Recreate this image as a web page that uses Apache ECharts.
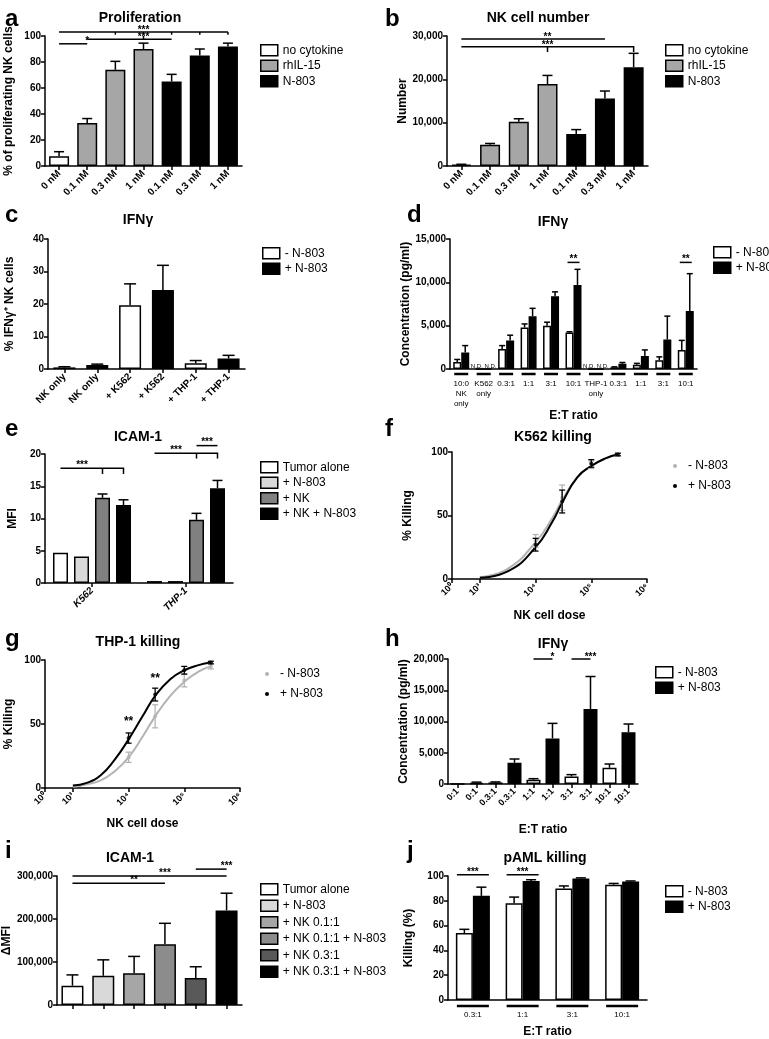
<!DOCTYPE html>
<html><head><meta charset="utf-8">
<script src="https://cdn.jsdelivr.net/npm/echarts@6/dist/echarts.min.js"></script>
<style>html,body{margin:0;padding:0;background:#fff}#c{width:769px;height:1039px}</style>
</head><body><div id="c"></div>
<script>
// ---------- DATA ----------
const aCats = ['0 nM','0.1 nM','0.3 nM','1 nM','0.1 nM','0.3 nM','1 nM'];
const aNo = [7.5,'-','-','-','-','-','-'];
const aIL = ['-',33,74,90,'-','-','-'];
const aN8 = ['-','-','-','-',65,85,92];
const aErr = [3.5,3.5,6.5,4.5,5.5,5,2.5];
const bNo = [300,'-','-','-','-','-','-'];
const bIL = ['-',4900,10200,18900,'-','-','-'];
const bN8 = ['-','-','-','-',7400,15600,22800];
const bErr = [100,300,700,2000,1000,1700,3200];
const cCats = ['NK only','NK only','+ K562','+ K562','+ THP-1','+ THP-1'];
const cMinus = [0.5,'-',19.6,'-',1.8,'-'];
const cPlus = ['-',1.2,'-',24.3,'-',3.2];
const cErr = [0.2,0.3,6.6,7.6,0.8,1.0];
const dCats = ['10:0\nNK\nonly','K562\nonly','0.3:1','1:1','3:1','10:1','THP-1\nonly','0.3:1','1:1','3:1','10:1'];
const dMinus = [800,0,2300,4800,5000,4200,0,200,500,1000,2200];
const dPlus = [1900,0,3300,6100,8400,9700,0,600,1500,3400,6700];
const dMinusErr = [300,0,400,400,400,100,0,50,150,400,1100];
const dPlusErr = [800,0,600,900,500,1800,0,150,700,2700,4300];
const eCats = ['K562','THP-1'];
const eTumor = [4.7,0.3];
const eN8 = [4.1,0.3];
const eNK = [13.2,9.8];
const eNKN8 = [12.1,14.7];
const eNKErr = [0.6,1.0];
const eNKN8Err = [0.8,1.2];
const fDose = [1e4,3e4,1e5,3e5];
const fMinus = [30,64,90,98];
const fMinusErr = [5,10,3,1];
const fPlus = [27,61,91,98];
const fPlusErr = [5,9,3,1];
const fCurveDose = [1e3,3.16e3,1e4,2e4,3e4,5.6e4,1e5,1.8e5,3e5];
const fCurveMinus = [1.5,8,29,48,62,80,89,95,98];
const fCurvePlus = [1,6,25,45,60,80,89,95,98];
const gDose = [1e4,3e4,1e5,3e5];
const gMinus = [24,56,84,95];
const gMinusErr = [4,9,5,2];
const gPlus = [39,73,92,98];
const gPlusErr = [4,5,3,1];
const gCurveDose = [1e3,1.78e3,3.16e3,5.6e3,1e4,1.78e4,3e4,5.6e4,1e5,1.8e5,3e5];
const gCurveMinus = [1,3,6,13,24,40,56,72,83,91,95];
const gCurvePlus = [2,4,10,22,38,56,72,85,92,96,98];
const hCats = ['0:1','0:1','0.3:1','0.3:1','1:1','1:1','3:1','3:1','10:1','10:1'];
const hMinus = [0,'-',250,'-',700,'-',1200,'-',2600,'-'];
const hPlus = ['-',200,'-',3400,'-',7300,'-',12000,'-',8300];
const hErr = [0,100,80,600,150,2400,300,5200,600,1300];
const iNames = ['Tumor alone','+ N-803','+ NK 0.1:1','+ NK 0.1:1 + N-803','+ NK 0.3:1','+ NK 0.3:1 + N-803'];
const iVals = [45000,68000,74000,141000,63000,220000];
const iErr = [25000,37000,39000,49000,26000,40000];
const jCats = ['0.3:1','1:1','3:1','10:1'];
const jMinus = [54,78,90,93];
const jPlus = [84,96,98,95.5];
const jMinusErr = [3,5,2,1];
const jPlusErr = [7,1,0.5,0.5];
const iColors = ['#ffffff','#d9d9d9','#a6a6a6','#8c8c8c','#595959','#000000'];

// ---------- HELPERS ----------
const FONT = 'Liberation Sans';
const grids = [
  {left:45,top:36,width:197,height:130},
  {left:447,top:36,width:201,height:130},
  {left:48,top:239,width:197,height:130},
  {left:450,top:239,width:247,height:130},
  {left:45,top:454,width:188,height:129},
  {left:452,top:452,width:195,height:127},
  {left:45,top:660,width:195,height:128},
  {left:448,top:659,width:190,height:125},
  {left:40,top:876,width:202,height:129},
  {left:448,top:876,width:199,height:130}
];
const axLine = {show:true,lineStyle:{color:'#000',width:1.5}};
const axTick = {show:true,length:4,lineStyle:{color:'#000',width:1.5}};
function yAx(gi,max,interval,name,gap){
  return {type:'value',gridIndex:gi,min:0,max:max,interval:interval,name:name,nameLocation:'middle',nameGap:gap,
    nameTextStyle:{fontFamily:FONT,fontWeight:'bold',fontSize:12,color:'#000'},
    axisLine:axLine,axisTick:axTick,splitLine:{show:false},
    axisLabel:{fontFamily:FONT,fontWeight:'bold',fontSize:10,color:'#000',margin:4}};
}
function xCat(gi,data,opts){
  opts = opts||{};
  return {type:'category',gridIndex:gi,data:data,name:opts.name||'',nameLocation:'middle',nameGap:opts.nameGap||30,
    nameTextStyle:{fontFamily:FONT,fontWeight:'bold',fontSize:12,color:'#000'},
    axisLine:axLine,axisTick:opts.tick===false?{show:false}:Object.assign({alignWithLabel:true},axTick),
    axisLabel:Object.assign({fontFamily:FONT,fontWeight:'bold',fontSize:10,color:'#000',rotate:45,interval:0,margin:6},opts.label||{})};
}
function xLog(gi,name,gap){
  return {type:'log',logBase:10,gridIndex:gi,min:316.2278,max:1e6,name:name,nameLocation:'middle',nameGap:gap,
    nameTextStyle:{fontFamily:FONT,fontWeight:'bold',fontSize:12,color:'#000'},
    axisLine:axLine,axisTick:axTick,splitLine:{show:false},minorTick:{show:false},
    axisLabel:{fontFamily:FONT,fontWeight:'bold',fontSize:9,color:'#000',showMinLabel:true,rotate:45,margin:6,
      formatter:v=>{const e=Math.round(Math.log10(v)); if(v<900) return '10⁰'; const sup={3:'³',4:'⁴',5:'⁵',6:'⁶'}; return '10'+(sup[e]||e);}}};
}
function bar(gi,name,data,color,extra){
  return Object.assign({type:'bar',name:name,xAxisIndex:gi,yAxisIndex:gi,data:data,
    itemStyle:{color:color,borderColor:'#000',borderWidth:1.5},emphasis:{disabled:true},z:3},extra||{});
}
// error bars: items [x, value, err, dxPx]
function errSeries(gi,items,cap,color){
  color = color||'#000';
  return {type:'custom',xAxisIndex:gi,yAxisIndex:gi,z:2,clip:false,
    data:items.map(it=>[it[0],it[1],it[2],it[3]||0]),
    renderItem:(p,api)=>{
      const x=api.value(0),v=api.value(1),e=api.value(2),dx=api.value(3);
      if(!e) return null;
      const a=api.coord([x,v]),b=api.coord([x,v+e]);
      const cx=a[0]+dx;
      return {type:'group',children:[
        {type:'line',shape:{x1:cx,y1:a[1],x2:cx,y2:b[1]},style:{stroke:color,lineWidth:1.5}},
        {type:'line',shape:{x1:cx-cap,y1:b[1],x2:cx+cap,y2:b[1]},style:{stroke:color,lineWidth:1.5}}]};
    }};
}
// symmetric error bars for scatter on log axes
function errSym(gi,xs,vs,es,color){
  return {type:'custom',xAxisIndex:gi,yAxisIndex:gi,z:4,clip:false,
    data:xs.map((x,i)=>[x,vs[i],es[i]]),
    renderItem:(p,api)=>{
      const x=api.value(0),v=api.value(1),e=api.value(2);
      const lo=api.coord([x,v-e]),hi=api.coord([x,v+e]);
      return {type:'group',children:[
        {type:'line',shape:{x1:lo[0],y1:lo[1],x2:hi[0],y2:hi[1]},style:{stroke:color,lineWidth:1.3}},
        {type:'line',shape:{x1:lo[0]-3,y1:lo[1],x2:lo[0]+3,y2:lo[1]},style:{stroke:color,lineWidth:1.3}},
        {type:'line',shape:{x1:hi[0]-3,y1:hi[1],x2:hi[0]+3,y2:hi[1]},style:{stroke:color,lineWidth:1.3}}]};
    }};
}
// brackets/annotations: spec {lines:[[pt,pt,...],...], t:text, tp:pt, fs} pt=[x,v,dx,dy]
function annot(gi,specs,dataX){
  return {type:'custom',xAxisIndex:gi,yAxisIndex:gi,z:10,clip:false,silent:true,
    data:specs.map(()=>[dataX===undefined?0:dataX,0]),
    renderItem:(p,api)=>{
      const s=specs[p.dataIndex];
      const pt=q=>{const c=api.coord([q[0],q[1]]);return [c[0]+(q[2]||0),c[1]+(q[3]||0)];};
      const ch=[];
      (s.lines||[]).forEach(l=>ch.push({type:'polyline',shape:{points:l.map(pt)},style:{stroke:'#000',lineWidth:s.w||1.5,fill:null}}));
      if(s.t){const c=pt(s.tp);ch.push({type:'text',x:c[0],y:c[1],style:{text:s.t,align:'center',verticalAlign:'bottom',font:(s.fw||'bold')+' '+(s.fs||10)+'px '+FONT,fill:'#000'}});}
      return {type:'group',children:ch};
    }};
}
function legend(left,top,items,opts){
  opts=opts||{};
  return {left:left,top:top,orient:'vertical',itemGap:opts.gap||3,itemWidth:opts.w||17,itemHeight:opts.h||11,
    selectedMode:false,textStyle:{fontFamily:FONT,fontSize:12,color:'#000'},
    data:items.map(it=>({name:it[0],icon:opts.icon||'rect',itemStyle:{color:it[1],borderColor:opts.noBorder?it[1]:'#000',borderWidth:opts.noBorder?0:1.5}}))};
}
function ttl(text,x,y,big){
  return {text:text,left:x,top:y,textAlign:big?'left':'center',
    textStyle:{fontFamily:FONT,fontWeight:'bold',fontSize:big?24:14,color:'#000'}};
}

// ---------- BUILD ----------
const xAxis=[], yAxis=[], series=[];
// a
xAxis.push(xCat(0,aCats)); yAxis.push(yAx(0,100,20,'% of proliferating NK cells',30));
series.push(bar(0,'no cytokine',aNo,'#fff',{stack:'a',barWidth:20}));
series.push(bar(0,'rhIL-15',aIL,'#a6a6a6',{stack:'a',barWidth:20}));
series.push(bar(0,'N-803',aN8,'#000',{stack:'a',barWidth:20}));
series.push(errSeries(0,aCats.map((c,i)=>[i,[aNo,aIL,aN8].map(s=>s[i]).find(v=>v!=='-'),aErr[i]]),5));
series.push(annot(0,[
  {lines:[[[0,94],[1,94]]],t:'*',tp:[0.5,94,0,2]},
  {lines:[[[0,103],[6,103]],[[2,103],[2,101]],[[3,103],[3,101]],[[4,103],[4,101]],[[5,103],[5,101]],[[6,103],[6,101]]],t:'***',tp:[3,103,0,3]},
  {lines:[[[1,97.5],[4,97.5]],[[3,97.5],[3,100]]],t:'***',tp:[2.5,97.5,0,3]}
]));
// b
xAxis.push(xCat(1,aCats)); yAxis.push(yAx(1,30000,10000,'Number',36));
series.push(bar(1,'no cytokine',bNo,'#fff',{stack:'b',barWidth:20}));
series.push(bar(1,'rhIL-15',bIL,'#a6a6a6',{stack:'b',barWidth:20}));
series.push(bar(1,'N-803',bN8,'#000',{stack:'b',barWidth:20}));
series.push(errSeries(1,aCats.map((c,i)=>[i,[bNo,bIL,bN8].map(s=>s[i]).find(v=>v!=='-'),bErr[i]]),5));
series.push(annot(1,[
  {lines:[[[0,29300],[5,29300]]],t:'**',tp:[2.5,29300,0,3]},
  {lines:[[[0,27500],[6,27500],[6,26300]],[[3,27500],[3,26300]]],t:'***',tp:[3,27500,0,3]}
]));
// c
xAxis.push(xCat(2,cCats)); yAxis.push(yAx(2,40,10,'% IFNγ⁺ NK cells',32));
series.push(bar(2,'- N-803',cMinus,'#fff',{stack:'c',barWidth:22}));
series.push(bar(2,'+ N-803',cPlus,'#000',{stack:'c',barWidth:22}));
series.push(errSeries(2,cCats.map((c,i)=>[i,cMinus[i]!=='-'?cMinus[i]:cPlus[i],cErr[i]]),6));
// d
xAxis.push(xCat(3,dCats,{name:'E:T ratio',nameGap:34,tick:false,label:{rotate:0,fontWeight:'normal',fontSize:8,margin:10,lineHeight:10}}));
yAxis.push(yAx(3,15000,5000,'Concentration (pg/ml)',38));
series.push(bar(3,'- N-803',dMinus,'#fff',{barWidth:8,barGap:'0%'}));
series.push(bar(3,'+ N-803',dPlus,'#000',{barWidth:8,barGap:'0%'}));
series.push(errSeries(3,dCats.map((c,i)=>[i,dMinus[i],dMinusErr[i],-4]).concat(dCats.map((c,i)=>[i,dPlus[i],dPlusErr[i],4])),3));
series.push(annot(3,[
  {lines:[[[5,12300,-6],[5,12300,6]]],t:'**',tp:[5,12300,0,2]},
  {lines:[[[10,12300,-6],[10,12300,6]]],t:'**',tp:[10,12300,0,2]},
  {t:'N.D. N.D.',tp:[1,0,0,0],fs:6,fw:'normal'},
  {t:'N.D. N.D.',tp:[6,0,0,0],fs:6,fw:'normal'}
].concat(dCats.map((c,i)=>({lines:[[[i,0,-7,5],[i,0,7,5]]],w:2.5})))));
// e
xAxis.push(xCat(4,eCats,{label:{fontStyle:'italic'}})); yAxis.push(yAx(4,20,5,'MFI',26));
series.push(bar(4,'Tumor alone',eTumor,'#fff',{barWidth:15,barGap:'40%'}));
series.push(bar(4,'+ N-803 ',eN8,'#d9d9d9',{barWidth:15}));
series.push(bar(4,'+ NK',eNK,'#808080',{barWidth:15}));
series.push(bar(4,'+ NK + N-803',eNKN8,'#000',{barWidth:15}));
series.push(errSeries(4,[[0,eNK[0],eNKErr[0],10.5],[1,eNK[1],eNKErr[1],10.5],[0,eNKN8[0],eNKN8Err[0],31.5],[1,eNKN8[1],eNKN8Err[1],31.5]],5));
series.push(annot(4,[
  {lines:[[[0,17.8,-31.5],[0,17.8,31.5],[0,16.9,31.5]],[[0,17.8,10.5],[0,16.9,10.5]]],t:'***',tp:[0,17.8,-10,2]},
  {lines:[[[1,20.1,-31.5],[1,20.1,31.5],[1,19.3,31.5]],[[1,20.1,10.5],[1,19.3,10.5]]],t:'***',tp:[1,20.1,-10,2]},
  {lines:[[[1,21.3,10.5],[1,21.3,31.5]]],t:'***',tp:[1,21.3,21,2]}
]));
// f
xAxis.push(xLog(5,'NK cell dose',31)); yAxis.push(yAx(5,100,50,'% Killing',38));
series.push({type:'line',name:'- N-803',xAxisIndex:5,yAxisIndex:5,data:fCurveDose.map((d,i)=>[d,fCurveMinus[i]]),smooth:true,showSymbol:false,lineStyle:{color:'#b3b3b3',width:2},z:3});
series.push({type:'line',name:'+ N-803',xAxisIndex:5,yAxisIndex:5,data:fCurveDose.map((d,i)=>[d,fCurvePlus[i]]),smooth:true,showSymbol:false,lineStyle:{color:'#000',width:2},z:3});
series.push({type:'scatter',xAxisIndex:5,yAxisIndex:5,data:fDose.map((d,i)=>[d,fMinus[i]]),symbolSize:4,itemStyle:{color:'#b3b3b3'}});
series.push({type:'scatter',xAxisIndex:5,yAxisIndex:5,data:fDose.map((d,i)=>[d,fPlus[i]]),symbolSize:4,itemStyle:{color:'#000'},z:5});
series.push(errSym(5,fDose,fMinus,fMinusErr,'#b3b3b3'));
series.push(errSym(5,fDose,fPlus,fPlusErr,'#000'));
// g
xAxis.push(xLog(6,'NK cell dose',30)); yAxis.push(yAx(6,100,50,'% Killing',30));
series.push({type:'line',name:'- N-803',xAxisIndex:6,yAxisIndex:6,data:gCurveDose.map((d,i)=>[d,gCurveMinus[i]]),smooth:true,showSymbol:false,lineStyle:{color:'#b3b3b3',width:2},z:3});
series.push({type:'line',name:'+ N-803',xAxisIndex:6,yAxisIndex:6,data:gCurveDose.map((d,i)=>[d,gCurvePlus[i]]),smooth:true,showSymbol:false,lineStyle:{color:'#000',width:2},z:3});
series.push({type:'scatter',xAxisIndex:6,yAxisIndex:6,data:gDose.map((d,i)=>[d,gMinus[i]]),symbolSize:4,itemStyle:{color:'#b3b3b3'}});
series.push({type:'scatter',xAxisIndex:6,yAxisIndex:6,data:gDose.map((d,i)=>[d,gPlus[i]]),symbolSize:4,itemStyle:{color:'#000'},z:5});
series.push(errSym(6,gDose,gMinus,gMinusErr,'#b3b3b3'));
series.push(errSym(6,gDose,gPlus,gPlusErr,'#000'));
series.push(Object.assign(annot(6,[{t:'**',tp:[1e4,47,0,0],fs:12},{t:'**',tp:[3e4,81,0,0],fs:12}],1e4)));
// h
xAxis.push(xCat(7,hCats,{name:'E:T ratio',nameGap:40,label:{fontSize:9}})); yAxis.push(yAx(7,20000,5000,'Concentration (pg/ml)',36));
series.push(bar(7,'- N-803',hMinus,'#fff',{stack:'h',barWidth:14}));
series.push(bar(7,'+ N-803',hPlus,'#000',{stack:'h',barWidth:14}));
series.push(errSeries(7,hCats.map((c,i)=>[i,hMinus[i]!=='-'?hMinus[i]:hPlus[i],hErr[i]]),5));
series.push(annot(7,[
  {lines:[[[4,20000],[5,20000]]],t:'*',tp:[4.5,20000,0,3]},
  {lines:[[[6,20000],[7,20000]]],t:'***',tp:[6.5,20000,0,3]}
]));
// i
const iCats = iNames.map((n,i)=>String(i));
xAxis.push(xCat(8,iCats,{label:{show:false}})); yAxis.push(yAx(8,300000,100000,'ΔMFI',33));
iNames.forEach((n,k)=>series.push(bar(8,n,iVals.map((v,i)=>i===k?v:'-'),iColors[k],{stack:'i',barWidth:22})));
series.push(errSeries(8,iVals.map((v,i)=>[i,v,iErr[i]]),6));
series.push(annot(8,[
  {lines:[[[0,300000],[5,300000]]],t:'***',tp:[2.5,300000,0,2]},
  {lines:[[[0,283000],[3,283000]]],t:'**',tp:[1.5,283000,0,2]},
  {lines:[[[4,316000],[5,316000]]],t:'***',tp:[4.5,316000,0,2]}
]));
// j
xAxis.push(xCat(9,jCats,{name:'E:T ratio',nameGap:26,tick:false,label:{rotate:0,fontWeight:'normal',fontSize:8,margin:11}}));
yAxis.push(yAx(9,100,20,'Killing (%)',33));
series.push(bar(9,'- N-803',jMinus,'#fff',{barWidth:17,barGap:'0%'}));
series.push(bar(9,'+ N-803',jPlus,'#000',{barWidth:17,barGap:'0%'}));
series.push(errSeries(9,jCats.map((c,i)=>[i,jMinus[i],jMinusErr[i],-8.5]).concat(jCats.map((c,i)=>[i,jPlus[i],jPlusErr[i],8.5])),5));
series.push(annot(9,[
  {lines:[[[0,101,-16],[0,101,16]]],t:'***',tp:[0,101,0,2]},
  {lines:[[[1,101,-16],[1,101,16]]],t:'***',tp:[1,101,0,2]}
].concat(jCats.map((c,i)=>({lines:[[[i,0,-16,6],[i,0,16,6]]],w:2.5})))));

const option = {
  animation:false,
  backgroundColor:'#fff',
  grid:grids.map(g=>Object.assign({containLabel:false},g)),
  xAxis:xAxis, yAxis:yAxis, series:series,
  title:[
    ttl('a',0,2,true),ttl('Proliferation',135,6),
    ttl('b',380,2,true),ttl('NK cell number',533,6),
    ttl('c',0,198,true),ttl('IFNγ',133,208),
    ttl('d',402,198,true),ttl('IFNγ',548,210),
    ttl('e',0,412,true),ttl('ICAM-1',133,425),
    ttl('f',380,412,true),ttl('K562 killing',548,425),
    ttl('g',0,622,true),ttl('THP-1 killing',133,630),
    ttl('h',380,622,true),ttl('IFNγ',548,632),
    ttl('i',0,834,true),ttl('ICAM-1',125,846),
    ttl('j',402,834,true),ttl('pAML killing',540,846)
  ],
  legend:[
    legend(255,39,[['no cytokine','#fff'],['rhIL-15','#a6a6a6'],['N-803','#000']]),
    legend(660,39,[['no cytokine','#fff'],['rhIL-15','#a6a6a6'],['N-803','#000']]),
    legend(257,242,[['- N-803','#fff'],['+ N-803','#000']]),
    legend(708,241,[['- N-803','#fff'],['+ N-803','#000']]),
    legend(255,456,[['Tumor alone','#fff'],['+ N-803 ','#d9d9d9'],['+ NK','#808080'],['+ NK + N-803','#000']]),
    legend(668,455,[['- N-803','#b3b3b3'],['+ N-803','#000']],{icon:'circle',w:16,h:4,noBorder:true,gap:8}),
    legend(260,663,[['- N-803','#b3b3b3'],['+ N-803','#000']],{icon:'circle',w:16,h:4,noBorder:true,gap:8}),
    legend(650,661,[['- N-803','#fff'],['+ N-803','#000']]),
    legend(255,878,iNames.map((n,i)=>[n,iColors[i]]),{gap:4}),
    legend(660,880,[['- N-803','#fff'],['+ N-803','#000']])
  ]
};
const chart = echarts.init(document.getElementById('c'),null,{renderer:'canvas'});
chart.setOption(option);
</script></body></html>
